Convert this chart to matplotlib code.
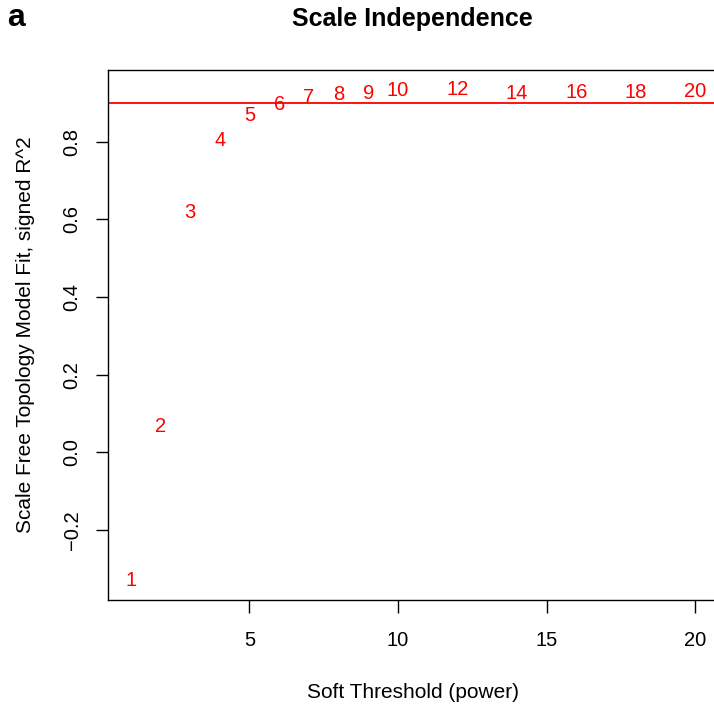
import matplotlib
matplotlib.use("Agg")
from matplotlib import pyplot as plt

plt.rcParams["font.family"] = ["Liberation Sans", "DejaVu Sans"]

# Soft-threshold powers and signed R^2 of the scale free fit
powers = [1, 2, 3, 4, 5, 6, 7, 8, 9, 10, 12, 14, 16, 18, 20]
signed_r2 = [-0.330, 0.067, 0.618, 0.803, 0.867, 0.896, 0.914, 0.921,
             0.924, 0.932, 0.934, 0.924, 0.927, 0.927, 0.929]
cutoff = 0.90

fig = plt.figure(figsize=(7.14, 7.12), dpi=100)
# axes box runs past the right edge, as in the cropped original
ax = fig.add_axes([0.1513, 0.1573, 0.8538, 0.7444])

for p, r in zip(powers, signed_r2):
    ax.text(p, r, str(p), color="red", fontsize=14.5,
            ha="center", va="center")

ax.axhline(cutoff, color="red", lw=1.3)

ax.set_xlim(0.24, 20.76)
ax.set_ylim(-0.3806, 0.9846)
ax.set_xticks([5, 10, 15, 20])
ax.set_yticks([-0.2, 0.0, 0.2, 0.4, 0.6, 0.8])
ax.set_yticklabels(["\u22120.2", "0.0", "0.2", "0.4", "0.6", "0.8"],
                   rotation=90, va="center")
ax.tick_params(direction="out", length=9, width=1, labelsize=14.5)
ax.tick_params(axis="x", pad=13)
ax.tick_params(axis="y", pad=10)
for s in ax.spines.values():
    s.set_linewidth(1)

ax.set_xlabel("Soft Threshold (power)", fontsize=15, labelpad=24)
ax.set_ylabel("Scale Free Topology Model Fit, signed R^2", fontsize=15,
              labelpad=20)

fig.text(412 / 714, 1 - 19 / 712, "Scale Independence", fontsize=18,
         fontweight="bold", ha="center", va="center")
fig.text(7 / 714, 1 - 18 / 712, "a", fontsize=23, fontweight="bold",
         ha="left", va="center")

fig.savefig("out.png", dpi=100)
